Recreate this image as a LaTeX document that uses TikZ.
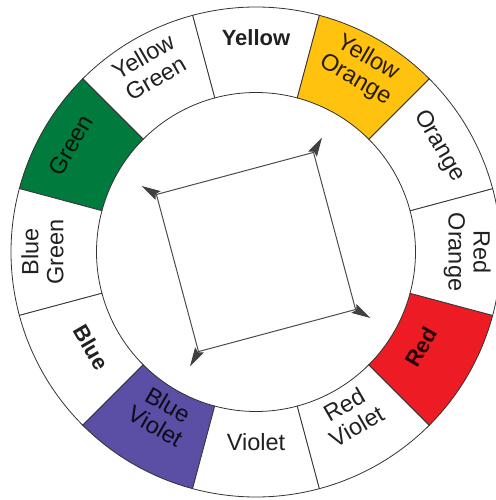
\documentclass[tikz,border=0pt]{standalone}
\usepackage{fontspec}
\setmainfont{Liberation Sans}
\usetikzlibrary{arrows.meta}
\definecolor{cwgreen}{RGB}{0,122,61}
\definecolor{cwviolet}{RGB}{90,78,165}
\definecolor{cwred}{RGB}{237,28,36}
\definecolor{cwyorange}{RGB}{255,194,14}
\definecolor{cwline}{RGB}{51,51,51}
\newcommand\rin{159.5pt}
\newcommand\rout{245pt}
\begin{document}
\begin{tikzpicture}[x=1pt,y=1pt,
  seg/.style={draw=cwline, line width=0.8pt},
  lbl/.style={inner sep=0pt, align=center, text=black!87,
    font=\fontsize{23.5}{25}\selectfont, text height=17pt, text depth=0pt},
  prim/.style={font=\fontsize{22}{25}\selectfont\bfseries},
  oncolor/.style={text=black, text opacity=0.85},
  sqline/.style={draw=black!70, line width=1pt},
  tetradarrow/.style={-{Stealth[length=19pt,width=10pt,inset=3pt]}, draw=black!75, line width=1pt, fill=black}
]
\useasboundingbox (-256,-248) rectangle (239,252);
\fill[white] (-256,-248) rectangle (239,252);
% ring segments
\foreach \a/\c in {90/white,120/white,150/cwgreen,180/white,210/white,240/cwviolet,
                   270/white,300/white,330/cwred,0/white,30/white,60/cwyorange}{
  \path[seg, fill=\c] ({\a-15}:\rin) -- ({\a-15}:\rout)
     arc[start angle={\a-15}, end angle={\a+15}, radius=\rout]
     -- ({\a+15}:\rin)
     arc[start angle={\a+15}, end angle={\a-15}, radius=\rin] -- cycle;
}
% labels
\node[lbl, prim, rotate=0] (yellow) at (90:214.5) {Yellow};
\node[lbl, rotate=30] (yellowgreen) at (120:201) {Yellow\\Green};
\node[lbl, oncolor, rotate=60] (green) at (150:214.5) {Green};
\node[lbl, rotate=90] (bluegreen) at (180:201) {Blue\\Green};
\node[lbl, prim, rotate=-60] (blue) at (210:189.5) {Blue};
\node[lbl, oncolor, rotate=-30] (blueviolet) at (240:201) {Blue\\Violet};
\node[lbl, rotate=0] (violet) at (270:189.5) {Violet};
\node[lbl, rotate=30] (redviolet) at (300:201) {Red\\Violet};
\node[lbl, prim, oncolor, rotate=60] (red) at (330:189.5) {Red};
\node[lbl, rotate=-90] (redorange) at (0:201) {Red\\Orange};
\node[lbl, rotate=-60] (orange) at (30:214.5) {Orange};
\node[lbl, oncolor, rotate=-30] (yelloworange) at (60:201) {Yellow\\Orange};
% tetrad square
\coordinate (sq1) at (150:115);
\coordinate (sq2) at (60:115);
\coordinate (sq3) at (-30:115);
\coordinate (sq4) at (240:115);
\coordinate (tp1) at (150:132);
\coordinate (tp2) at (60:132);
\coordinate (tp3) at (-30:132);
\coordinate (tp4) at (240:132);
\draw[sqline] (sq1) -- (sq2) -- (sq3) -- (sq4) -- cycle;
\foreach \i in {1,...,4}{\draw[tetradarrow] (sq\i) -- (tp\i);}
\end{tikzpicture}
\end{document}
